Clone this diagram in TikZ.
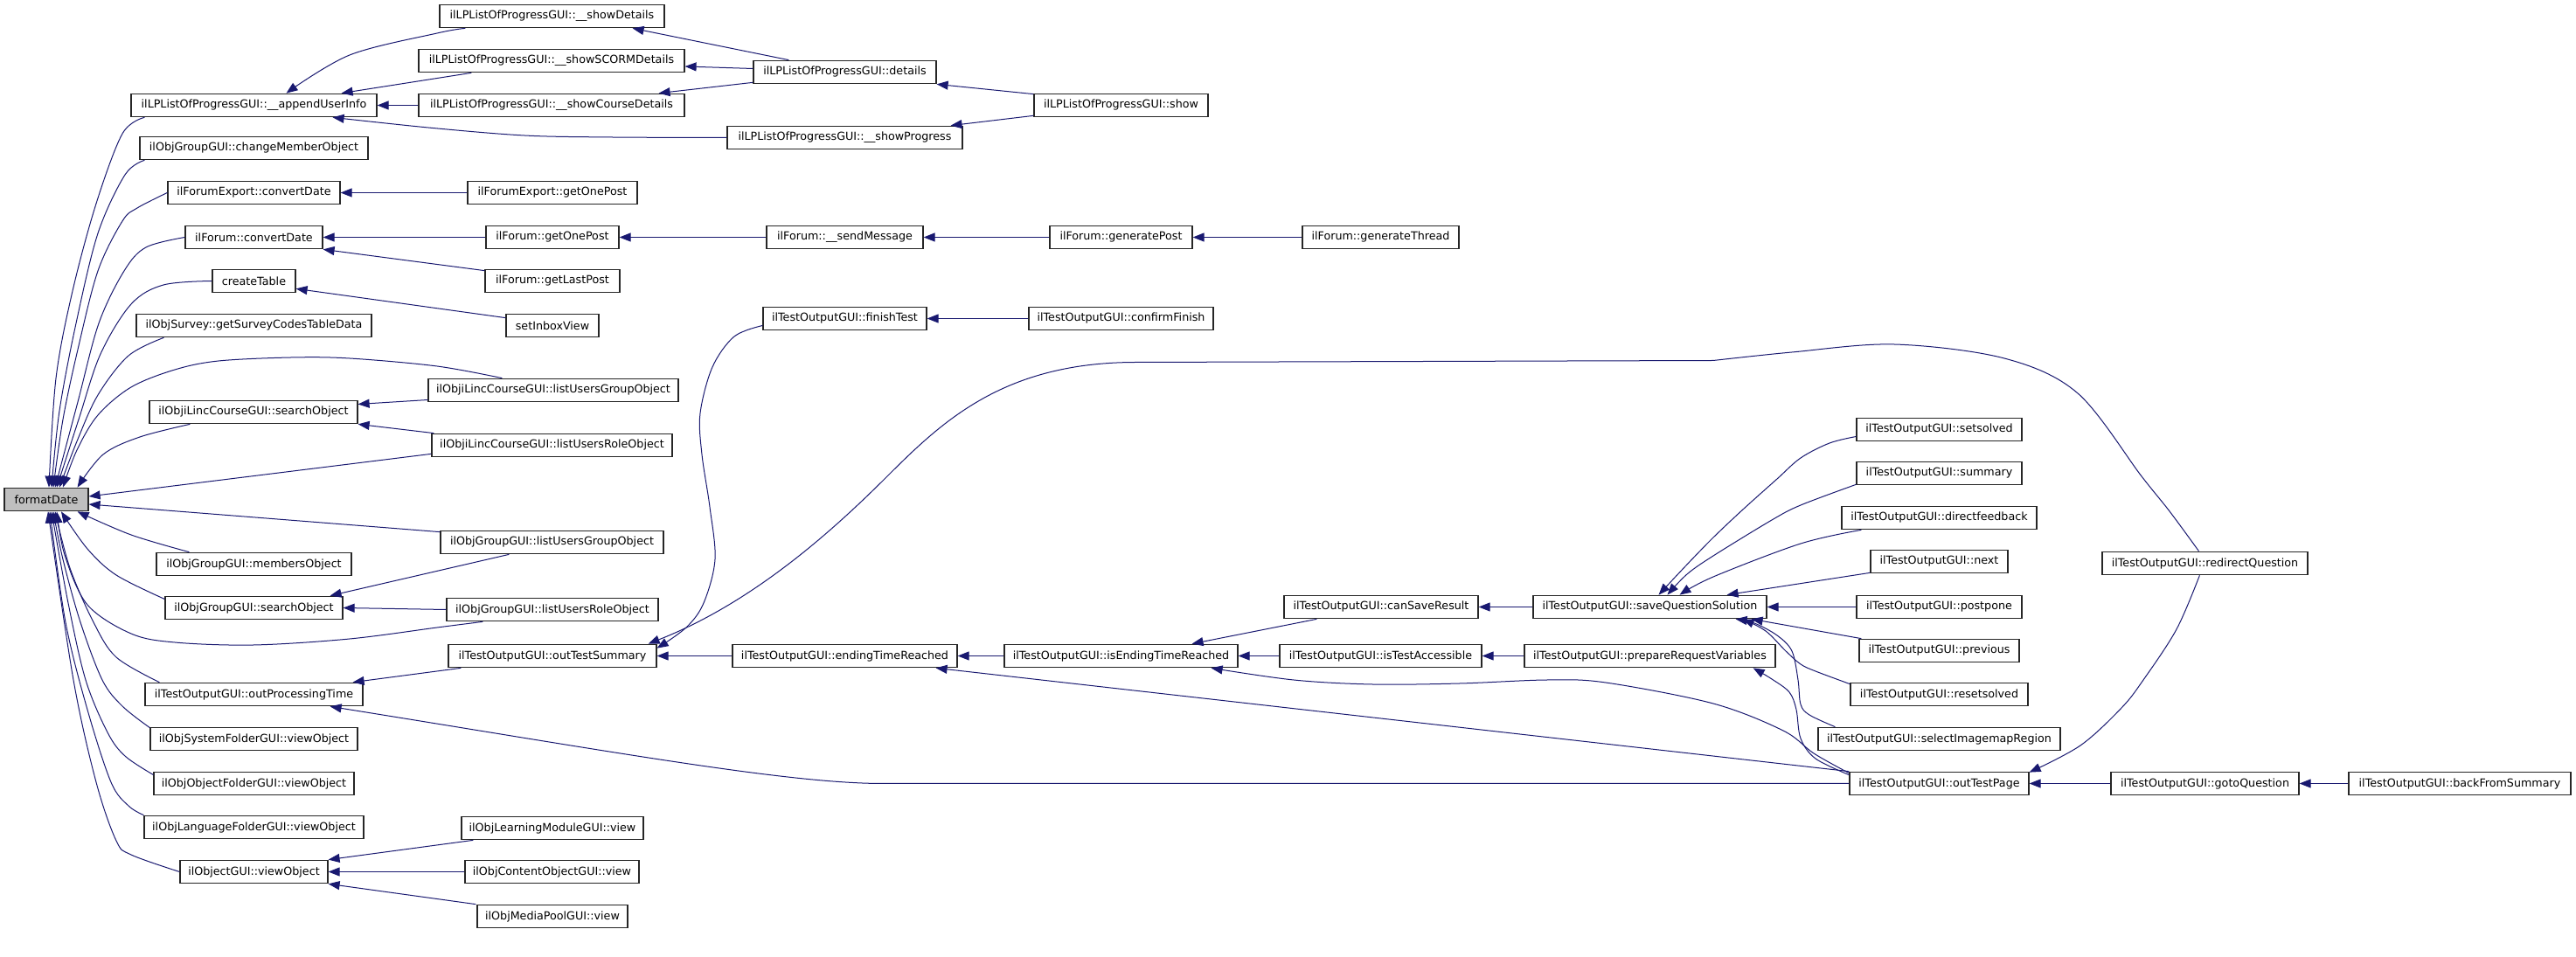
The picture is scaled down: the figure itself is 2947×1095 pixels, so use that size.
\documentclass[tikz,border=0pt]{standalone}
\usepackage{fontspec}
\newfontfamily\dejavu{DejaVu Sans}
\usetikzlibrary{arrows.meta,calc}
\definecolor{edgecol}{HTML}{191970}
\begin{document}
\begin{tikzpicture}[x=0.5pt,y=-0.5pt,
  fn/.style={draw=black!85, line width=0.6pt, rectangle, inner sep=0pt, minimum height=13.25pt,
     font=\dejavu\fontsize{6.35pt}{7pt}\selectfont, text=black, fill=white},
  wd/.style={minimum width=#1*0.5pt},
  e/.style={draw=edgecol, line width=0.5pt, -{Triangle[length=6.5pt,width=5pt]}},
  sm/.style={smooth, tension=0.55}]
\useasboundingbox (0,0) rectangle (2947,1095);
% ---------------- nodes
\node[fn,wd=96,fill=black!25] (fd) at (53,571.5) {formatDate};
\node[fn,wd=281] (aui) at (290.5,120.5) {ilLPListOfProgressGUI::\_\_appendUserInfo};
\node[fn,wd=261] (cmo) at (290.5,169.5) {ilObjGroupGUI::changeMemberObject};
\node[fn,wd=197] (fecd) at (290.5,220.5) {ilForumExport::convertDate};
\node[fn,wd=157] (fcd) at (290.5,271.5) {ilForum::convertDate};
\node[fn,wd=95] (ct) at (290.5,321.5) {createTable};
\node[fn,wd=269] (sgs) at (290.5,372.5) {ilObjSurvey::getSurveyCodesTableData};
\node[fn,wd=238] (ils) at (290,471.5) {ilObjiLincCourseGUI::searchObject};
\node[fn,wd=223] (mem) at (290.5,645.5) {ilObjGroupGUI::membersObject};
\node[fn,wd=203] (gso) at (290.5,695.5) {ilObjGroupGUI::searchObject};
\node[fn,wd=249] (opt) at (290.5,794.5) {ilTestOutputGUI::outProcessingTime};
\node[fn,wd=237] (sys) at (290.5,845.5) {ilObjSystemFolderGUI::viewObject};
\node[fn,wd=229] (ofo) at (290.5,896.5) {ilObjObjectFolderGUI::viewObject};
\node[fn,wd=251] (lfo) at (290.5,946.5) {ilObjLanguageFolderGUI::viewObject};
\node[fn,wd=169] (ogv) at (290.5,997.5) {ilObjectGUI::viewObject};
%
\node[fn,wd=257] (sd) at (631.5,18.5) {ilLPListOfProgressGUI::\_\_showDetails};
\node[fn,wd=304] (scorm) at (631,69.5) {ilLPListOfProgressGUI::\_\_showSCORMDetails};
\node[fn,wd=304] (course) at (631,120.5) {ilLPListOfProgressGUI::\_\_showCourseDetails};
\node[fn,wd=194] (fegop) at (632,220.5) {ilForumExport::getOnePost};
\node[fn,wd=152] (fgop) at (632,271.5) {ilForum::getOnePost};
\node[fn,wd=154] (glp) at (632,321.5) {ilForum::getLastPost};
\node[fn,wd=106] (sib) at (632,372.5) {setInboxView};
\node[fn,wd=286] (ilug) at (633,446.5) {ilObjiLincCourseGUI::listUsersGroupObject};
\node[fn,wd=275] (ilur) at (631.5,509.5) {ilObjiLincCourseGUI::listUsersRoleObject};
\node[fn,wd=255] (glug) at (631.5,620.5) {ilObjGroupGUI::listUsersGroupObject};
\node[fn,wd=242] (glur) at (632,697.5) {ilObjGroupGUI::listUsersRoleObject};
\node[fn,wd=238] (ots) at (632,750.5) {ilTestOutputGUI::outTestSummary};
\node[fn,wd=208] (lm) at (632,947.5) {ilObjLearningModuleGUI::view};
\node[fn,wd=199] (co) at (631.5,997.5) {ilObjContentObjectGUI::view};
\node[fn,wd=172] (mp) at (632,1048.5) {ilObjMediaPoolGUI::view};
%
\node[fn,wd=209] (det) at (966.5,82.5) {ilLPListOfProgressGUI::details};
\node[fn,wd=269] (sp) at (966.5,157.5) {ilLPListOfProgressGUI::\_\_showProgress};
\node[fn,wd=179] (smsg) at (966.5,271.5) {ilForum::\_\_sendMessage};
\node[fn,wd=187] (ft) at (966.5,364.5) {ilTestOutputGUI::finishTest};
\node[fn,wd=257] (etr) at (966.5,750.5) {ilTestOutputGUI::endingTimeReached};
%
\node[fn,wd=199] (show) at (1282.5,120.5) {ilLPListOfProgressGUI::show};
\node[fn,wd=163] (gp) at (1282.5,271.5) {ilForum::generatePost};
\node[fn,wd=211] (cf) at (1282.5,364.5) {ilTestOutputGUI::confirmFinish};
\node[fn,wd=267] (ietr) at (1282.5,750.5) {ilTestOutputGUI::isEndingTimeReached};
%
\node[fn,wd=179] (gt) at (1579.5,271.5) {ilForum::generateThread};
\node[fn,wd=222] (csr) at (1580,694.5) {ilTestOutputGUI::canSaveResult};
\node[fn,wd=231] (ita) at (1579.5,750.5) {ilTestOutputGUI::isTestAccessible};
%
\node[fn,wd=267] (sqs) at (1887.5,694.5) {ilTestOutputGUI::saveQuestionSolution};
\node[fn,wd=287] (prv) at (1887.5,750.5) {ilTestOutputGUI::prepareRequestVariables};
%
\node[fn,wd=189] (ss) at (2218.5,491.5) {ilTestOutputGUI::setsolved};
\node[fn,wd=189] (sum) at (2218.5,541.5) {ilTestOutputGUI::summary};
\node[fn,wd=223] (df) at (2218.5,592.5) {ilTestOutputGUI::directfeedback};
\node[fn,wd=157] (nx) at (2218.5,642.5) {ilTestOutputGUI::next};
\node[fn,wd=189] (pp) at (2218.5,694.5) {ilTestOutputGUI::postpone};
\node[fn,wd=183] (pv) at (2218.5,744.5) {ilTestOutputGUI::previous};
\node[fn,wd=203] (rs) at (2218.5,794.5) {ilTestOutputGUI::resetsolved};
\node[fn,wd=277] (sir) at (2218.5,845.5) {ilTestOutputGUI::selectImagemapRegion};
\node[fn,wd=205] (otp) at (2218.5,896.5) {ilTestOutputGUI::outTestPage};
%
\node[fn,wd=235] (rq) at (2522.5,644.5) {ilTestOutputGUI::redirectQuestion};
\node[fn,wd=215] (gq) at (2522.5,896.5) {ilTestOutputGUI::gotoQuestion};
\node[fn,wd=254] (bfs) at (2814,896.5) {ilTestOutputGUI::backFromSummary};
% ---------------- edges into formatDate
\draw[e] plot[sm] coordinates {($(aui.south west)+(16,0)$) (140,153) (110,233) (83,333) (64,433) ($(fd.north)+(3,0)$)};
\draw[e] plot[sm] coordinates {($(cmo.south west)+(6,0)$) (143,200) (112,267) (87,370) (68,470) ($(fd.north)+(6,0)$)};
\draw[e] plot[sm] coordinates {(fecd.west) (157,238) (140,253) (112,310) (89,400) (72,480) ($(fd.north)+(8,0)$)};
\draw[e] plot[sm] coordinates {(fcd.west) (167,283) (142,310) (113,370) (89,460) ($(fd.north)+(10,0)$)};
\draw[e] plot[sm] coordinates {(ct.west) (187,326) (150,348) (115,405) (90,480) ($(fd.north)+(12,0)$)};
\draw[e] plot[sm] coordinates {($(sgs.south west)+(32,0)$) (147,407) (112,452) (88,505) ($(fd.north)+(15,0)$)};
\draw[e] plot[sm] coordinates {($(ilug.north west)+(85,0)$) (500,419) (400,410) (333,409) (250,413) (200,423) (150,443) (112,475) (88,515) ($(fd.north)+(19,0)$)};
\draw[e] plot[sm] coordinates {($(ils.south west)+(47,0)$) (160,500) (118,520) ($(fd.north east)+(-13,0)$)};
\draw[e] ($(ilur.south west)+(0,-4)$) -- ($(fd.east)+(0,-3.5)$);
\draw[e] ($(glug.north west)+(0,2)$) -- ($(fd.east)+(0,5.5)$);
\draw[e] plot[sm] coordinates {($(mem.north west)+(38,0)$) (150,612) ($(fd.south east)+(-13,0)$)};
\draw[e] plot[sm] coordinates {($(gso.west)+(0,-10)$) (133,658) (100,628) ($(fd.south)+(17,0)$)};
\draw[e] plot[sm] coordinates {($(glur.south west)+(42,0)$) (500,718) (400,731) (290,738) (200,735) (150,725) (100,692) (74,635) ($(fd.south)+(12,0)$)};
\draw[e] plot[sm] coordinates {($(opt.north west)+(17,0)$) (133,752) (107,712) (80,650) ($(fd.south)+(10,0)$)};
\draw[e] plot[sm] coordinates {($(sys.north west)+(0,1)$) (140,808) (117,778) (92,712) (72,640) ($(fd.south)+(8,0)$)};
\draw[e] plot[sm] coordinates {($(ofo.west)+(0,-10)$) (143,865) (123,838) (98,778) (78,690) ($(fd.south)+(6,0)$)};
\draw[e] plot[sm] coordinates {($(lfo.north west)+(0,0)$) (147,922) (127,895) (100,812) (75,712) ($(fd.south)+(4,0)$)};
\draw[e] plot[sm] coordinates {(ogv.west) (150,978) (133,962) (110,895) (84,778) ($(fd.south)+(2,0)$)};
% ---------------- appendUserInfo family
\draw[e] plot[sm] coordinates {($(sd.south west)+(30,0)$) (500,38) (400,63) ($(aui.north)+(37,0)$)};
\draw[e] ($(scorm.south west)+(61,0)$) -- ($(aui.north east)+(-41,0)$);
\draw[e] (course.west) -- (aui.east);
\draw[e] plot[sm] coordinates {(sp.west) (700,157) (600,155) (490,146) ($(aui.south east)+(-51,0)$)};
\draw[e] ($(det.north west)+(41,0)$) -- ($(sd.south east)+(-37,0)$);
\draw[e] ($(det.west)+(0,-4)$) -- ($(scorm.east)+(0,6.5)$);
\draw[e] ($(det.south west)+(0,-2)$) -- ($(course.north east)+(-30,0)$);
\draw[e] ($(show.north west)+(0,1)$) -- (det.south east);
\draw[e] ($(show.south west)+(0,-2)$) -- ($(sp.north east)+(-14,0)$);
% ---------------- forum
\draw[e] (fegop.west) -- (fecd.east);
\draw[e] (fgop.west) -- (fcd.east);
\draw[e] ($(glp.north west)+(0,2)$) -- (fcd.south east);
\draw[e] (smsg.west) -- (fgop.east);
\draw[e] (gp.west) -- (smsg.east);
\draw[e] (gt.west) -- (gp.east);
\draw[e] ($(sib.north west)+(0,5)$) -- ($(ct.south east)+(0,-5)$);
% ---------------- iLinc and group
\draw[e] ($(ilug.west)+(0,11)$) -- ($(ils.east)+(0,-9)$);
\draw[e] ($(ilur.north west)+(3,0)$) -- (ils.south east);
\draw[e] ($(glug.south west)+(79,0)$) -- ($(gso.north east)+(-15,0)$);
\draw[e] (glur.west) -- (gso.east);
% ---------------- objectGUI views
\draw[e] ($(lm.south west)+(14,0)$) -- (ogv.north east);
\draw[e] (co.west) -- (ogv.east);
\draw[e] ($(mp.north west)+(-1,0)$) -- (ogv.south east);
% ---------------- test output
\draw[e] ($(ots.south west)+(15,0)$) -- ($(opt.north east)+(-12,0)$);
\draw[e] (otp.west) -- (1010,896.5) .. controls (900,896.5) and (700,860) .. ($(opt.south east)+(-38,0)$);
\draw[e] (cf.west) -- (ft.east);
\draw[e] plot[sm] coordinates {($(ft.west)+(0,8)$) (840,385) (815,420) (801,473) (803,520) (812,580) (818,640) (805,690) (785,718) ($(ots.north east)+(0,5)$)};
\draw[e] plot[sm] coordinates {($(rq.north)+(-7,0)$) (2482,585) (2450,545) (2377,450) (2293,410) (2167,394) (2050,403) (1960,412.5)} -- (1300,414.5)
   .. controls (1150,414.5) and (1080,480) .. (1015,545) .. controls (950,610) and (860,690) .. ($(ots.north east)+(-10,0)$);
\draw[e] (etr.west) -- (ots.east);
\draw[e] (ietr.west) -- (etr.east);
\draw[e] (otp.north west) -- ($(etr.south east)+(-25,0)$);
\draw[e] ($(csr.south west)+(38,0)$) -- ($(ietr.north east)+(-53,0)$);
\draw[e] (ita.west) -- (ietr.east);
\draw[e] plot[sm] coordinates {($(otp.north west)+(0,2)$) (2075,862) (2040,836) (1960,805) (1837,781) (1770,778) (1670,782) (1570,783) (1480,778) ($(ietr.south east)+(-31,0)$)};
\draw[e] (sqs.west) -- (csr.east);
\draw[e] (prv.west) -- (ita.east);
% ---------------- saveQuestionSolution callers
\draw[e] plot[sm] coordinates {($(ss.west)+(0,8)$) (2093,507) (2060,524) (2033,548) (1995,582) (1960,615) (1928,648) ($(sqs.north)+(10,0)$)};
\draw[e] plot[sm] coordinates {($(sum.south west)+(0,-1)$) (2060,578) (2027,595) (1960,636) (1930,657) ($(sqs.north)+(20,0)$)};
\draw[e] plot[sm] coordinates {($(df.south west)+(23,0)$) (2060,622) (1960,660) ($(sqs.north)+(34,0)$)};
\draw[e] ($(nx.south west)+(0,-1)$) -- ($(sqs.north east)+(-46,0)$);
\draw[e] (pp.west) -- (sqs.east);
\draw[e] ($(pv.north west)+(3,0)$) -- ($(sqs.south east)+(-18,0)$);
\draw[e] plot[sm] coordinates {($(rs.north west)+(0,2)$) (2077,768) (2060,760) (2043,745) (2020,722) ($(sqs.south east)+(-28,0)$)};
\draw[e] plot[sm] coordinates {($(sir.north west)+(20,0)$) (2070,818) (2060,806) (2057,778) (2050,745) (2033,727) (2007,713) ($(sqs.south east)+(-36,0)$)};
\draw[e] plot[sm] coordinates {($(otp.north west)+(0,4)$) (2077,868) (2060,845) (2055,812) (2047,792) (2027,777) ($(prv.south east)+(-26,0)$)};
% ---------------- redirect / goto
\draw[e] plot[sm] coordinates {($(rq.south west)+(112,0)$) (2490,720) (2452,778) (2427,810) (2380,853) ($(otp.north east)+(0,1)$)};
\draw[e] (gq.west) -- (otp.east);
\draw[e] (bfs.west) -- (gq.east);
\end{tikzpicture}
\end{document}
